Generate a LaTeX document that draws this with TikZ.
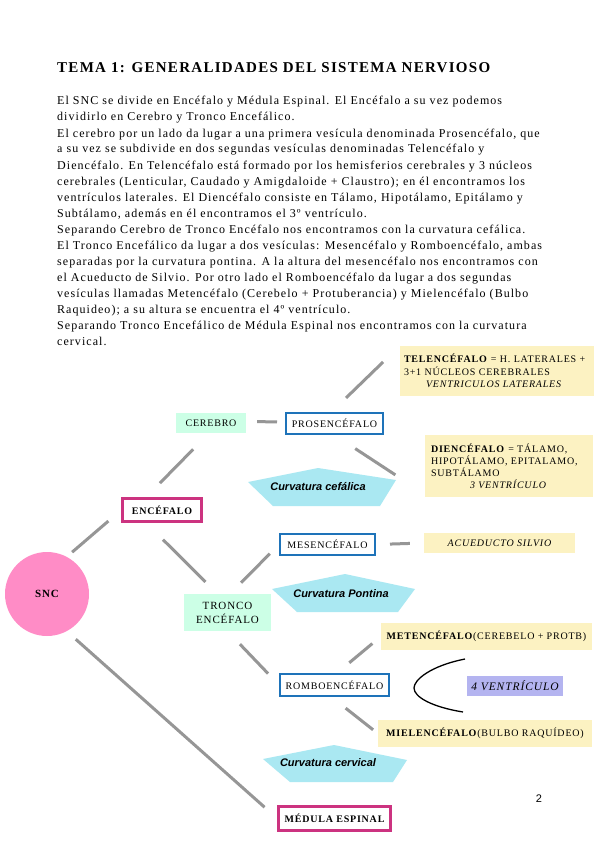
\documentclass[tikz,border=0pt]{standalone}
\usepackage{fontspec}
\setmainfont{Liberation Serif}
\newfontfamily\titlef[LetterSpace=8.6]{Liberation Serif}
\newfontfamily\bodyf[LetterSpace=8.7]{Liberation Serif}
\newfontfamily\diagf[LetterSpace=8]{Liberation Serif}
\newfontfamily\arialf{Liberation Sans}
\usetikzlibrary{calc}
\definecolor{pinkc}{RGB}{255,140,198}
\definecolor{magc}{RGB}{204,51,128}
\definecolor{bluec}{RGB}{30,115,185}
\definecolor{mintc}{RGB}{204,255,230}
\definecolor{yelc}{RGB}{252,242,194}
\definecolor{cyanc}{RGB}{170,232,242}
\definecolor{lavc}{RGB}{180,180,240}
\definecolor{linegray}{RGB}{150,150,150}
\begin{document}
\begin{tikzpicture}[x=1pt,y=-1pt,
  conn/.style={draw=linegray,line width=3pt},
  bodyline/.style={anchor=base west,inner sep=0pt,font=\bodyf\fontsize{12}{14}\selectfont},
  dtext/.style={font=\diagf\fontsize{10}{12}\selectfont},
  magbox/.style={draw=magc,line width=2.5pt,fill=white,dtext,font=\diagf\bfseries\fontsize{10}{12}\selectfont,inner sep=0pt},
  bluebox/.style={draw=bluec,line width=2pt,fill=white,dtext,inner sep=0pt},
  mintbox/.style={fill=mintc,dtext,inner sep=0pt},
  yelbox/.style={fill=yelc,dtext,inner sep=0pt},
  curvtext/.style={font=\arialf\bfseries\itshape\fontsize{11}{13}\selectfont,inner sep=0pt}
]
\useasboundingbox[fill=white] (0,0) rectangle (599,848);

% title and body text
\node[anchor=base west,inner sep=0pt,font=\titlef\bfseries\fontsize{15}{17}\selectfont] (title) at (57,73) {TEMA 1: GENERALIDADES DEL SISTEMA NERVIOSO};
\node[bodyline] (l1) at (57,105) {El SNC se divide en Encéfalo y Médula Espinal. El Encéfalo a su vez podemos};
\node[bodyline] (l2) at (57,121) {dividirlo en Cerebro y Tronco Encefálico.};
\node[bodyline] (l3) at (57,137) {El cerebro por un lado da lugar a una primera vesícula denominada Prosencéfalo, que};
\node[bodyline] (l4) at (57,153) {a su vez se subdivide en dos segundas vesículas denominadas Telencéfalo y};
\node[bodyline] (l5) at (57,169) {Diencéfalo. En Telencéfalo está formado por los hemisferios cerebrales y 3 núcleos};
\node[bodyline] (l6) at (57,185) {cerebrales (Lenticular, Caudado y Amigdaloide + Claustro); en él encontramos los};
\node[bodyline] (l7) at (57,201) {ventrículos laterales. El Diencéfalo consiste en Tálamo, Hipotálamo, Epitálamo y};
\node[bodyline] (l8) at (57,217) {Subtálamo, además en él encontramos el 3º ventrículo.};
\node[bodyline] (l9) at (57,233) {Separando Cerebro de Tronco Encéfalo nos encontramos con la curvatura cefálica.};
\node[bodyline] (l10) at (57,249) {El Tronco Encefálico da lugar a dos vesículas: Mesencéfalo y Romboencéfalo, ambas};
\node[bodyline] (l11) at (57,265) {separadas por la curvatura pontina. A la altura del mesencéfalo nos encontramos con};
\node[bodyline] (l12) at (57,281) {el Acueducto de Silvio. Por otro lado el Romboencéfalo da lugar a dos segundas};
\node[bodyline] (l13) at (57,297) {vesículas llamadas Metencéfalo (Cerebelo + Protuberancia) y Mielencéfalo (Bulbo};
\node[bodyline] (l14) at (57,313) {Raquideo); a su altura se encuentra el 4º ventrículo.};
\node[bodyline] (l15) at (57,329) {Separando Tronco Encefálico de Médula Espinal nos encontramos con la curvatura};
\node[bodyline] (l16) at (57,345) {cervical.};

% curvature pentagons
\fill[cyanc] (248,482) -- (318,468) -- (396,480) -- (380,506) -- (273,506) -- cycle;
\node[curvtext] (ccef) at (318,487) {Curvatura cefálica};
\fill[cyanc] (272,589) -- (345,574) -- (415,589) -- (398,612) -- (297,612) -- cycle;
\node[curvtext] (cpon) at (341,594) {Curvatura Pontina};
\fill[cyanc] (263,759) -- (334,745) -- (407,760) -- (393,782) -- (290,782) -- cycle;
\node[curvtext] (ccer) at (328,763) {Curvatura cervical};

% nodes
\node[circle,fill=pinkc,minimum size=84pt,inner sep=0pt,font=\diagf\bfseries\fontsize{11}{13}\selectfont] (snc) at (47,594) {SNC};
\node[magbox,minimum width=79pt,minimum height=23pt] (enc) at (162,510) {ENCÉFALO};
\node[mintbox,minimum width=70pt,minimum height=20pt] (cer) at (211,423) {CEREBRO};
\node[bluebox,minimum width=97pt,minimum height=21pt] (pro) at (334.5,423.5) {PROSENCÉFALO};
\node[yelbox,minimum width=194pt,minimum height=50pt,text width=186pt,inner xsep=4pt,align=left,font=\diagf\fontsize{10}{12.5}\selectfont] (tel) at (497,371)
  {\textbf{TELENCÉFALO} = H. LATERALES +\\3+1 NÚCLEOS CEREBRALES\\\hspace*{22pt}\textit{VENTRICULOS LATERALES}};
\node[yelbox,minimum width=168pt,minimum height=62pt,text width=156pt,inner xsep=6pt,align=left,font=\diagf\fontsize{10}{12}\selectfont] (die) at (509,466)
  {\textbf{DIENCÉFALO} = TÁLAMO,\\HIPOTÁLAMO, EPITALAMO,\\SUBTÁLAMO\\\hspace*{39pt}\textit{3 VENTRÍCULO}};
\node[bluebox,minimum width=95pt,minimum height=21pt] (mes) at (327.5,544.5) {MESENCÉFALO};
\node[yelbox,minimum width=151pt,minimum height=20pt,font=\diagf\itshape\fontsize{10}{12}\selectfont] (acu) at (499.5,543) {ACUEDUCTO SILVIO};
\node[mintbox,minimum width=87pt,minimum height=37pt,align=center,font=\diagf\fontsize{11}{14}\selectfont] (tro) at (227.5,612.5) {TRONCO\\ENCÉFALO};
\node[yelbox,minimum width=211pt,minimum height=27pt] (met) at (486.5,636.5) {\textbf{METENCÉFALO}(CEREBELO + PROTB)};
\node[bluebox,minimum width=109pt,minimum height=22pt] (rom) at (334.5,685) {ROMBOENCÉFALO};
\node[fill=lavc,minimum width=96pt,minimum height=20pt,inner sep=0pt,font=\diagf\itshape\fontsize{11.5}{13}\selectfont] (ven) at (515,686) {4 VENTRÍCULO};
\node[yelbox,minimum width=214pt,minimum height=27pt] (mie) at (485,733.5) {\textbf{MIELENCÉFALO}(BULBO RAQUÍDEO)};
\node[magbox,minimum width=112pt,minimum height=24pt] (med) at (334.5,818.5) {MÉDULA ESPINAL};
\node[inner sep=0pt,font=\arialf\fontsize{11}{13}\selectfont] (pnum) at (539,799) {2};

% bracket
\draw[black,line width=1.3pt] (465,659) .. controls (430,666) and (414,680) .. (414,688) .. controls (414,697) and (432,707) .. (463,712);

% connectors
\draw[conn,shorten <=7pt,shorten >=17pt] (snc.62) -- (enc.west);
\draw[conn,shorten <=12pt,shorten >=17pt] (snc.-62) -- (med.west);
\draw[conn,shorten <=19.8pt,shorten >=22.6pt] ([xshift=-16pt]enc.north) -- ([xshift=-2pt]cer.south);
\draw[conn,shorten <=24pt,shorten >=17pt] ([xshift=-16pt]enc.south) -- ([xshift=-10pt]tro.north);
\draw[conn,shorten <=11pt,shorten >=8pt] ([yshift=1.5pt]cer.east) -- ([yshift=1.5pt]pro.west);
\draw[conn,shorten <=20.2pt,shorten >=23.3pt] ([xshift=-3pt]pro.north) -- (tel.north west);
\draw[conn,shorten <=24.8pt,shorten >=35.2pt] (pro.south) -- ([yshift=3pt]die.south west);
\draw[conn,shorten <=15.6pt,shorten >=13pt] ([xshift=2.5pt]tro.north) -- (mes.west);
\draw[conn,shorten <=18pt,shorten >=15.8pt] (tro.south) -- (rom.west);
\draw[conn,shorten <=14pt,shorten >=14pt] (mes.east) -- (acu.west);
\draw[conn,shorten <=16pt,shorten >=11pt] ([xshift=2.5pt]rom.north) -- (met.west);
\draw[conn,shorten <=18pt,shorten >=6pt] ([xshift=-3pt]rom.south) -- (mie.west);
\end{tikzpicture}
\end{document}
